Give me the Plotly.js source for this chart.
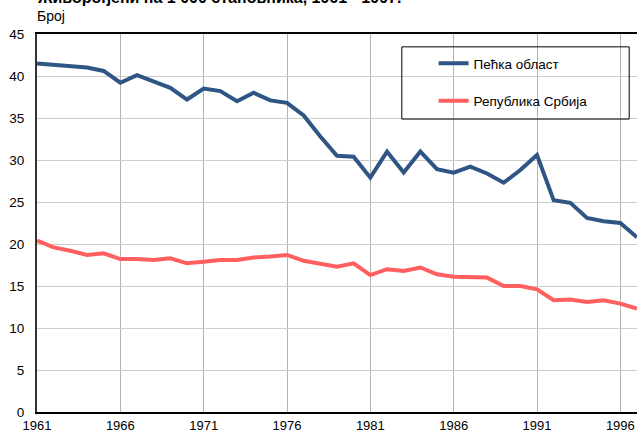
<!DOCTYPE html>
<html>
<head>
<meta charset="utf-8">
<script src="https://cdn.plot.ly/plotly-3.0.1.min.js"></script>
<style>html,body{margin:0;padding:0;background:#fff;}#chart{width:637px;height:434px;}</style>
</head>
<body>
<div id="chart"></div>
<script>
const years = [1961,1962,1963,1964,1965,1966,1967,1968,1969,1970,1971,1972,1973,1974,1975,1976,1977,1978,1979,1980,1981,1982,1983,1984,1985,1986,1987,1988,1989,1990,1991,1992,1993,1994,1995,1996,1997];
const pecka = [41.5,41.3,41.1,41.0,40.6,39.2,40.1,39.4,38.6,37.2,38.5,38.2,37.0,38.0,37.1,36.8,35.3,32.8,30.5,30.4,27.9,31.0,28.5,31.0,28.9,28.5,29.2,28.4,27.3,28.8,30.6,25.2,24.9,23.1,22.7,22.5,20.8];
const srbija = [20.4,19.6,19.2,18.7,18.9,18.2,18.2,18.1,18.3,17.7,17.9,18.1,18.1,18.4,18.5,18.7,18.0,17.7,17.3,17.7,16.3,17.0,16.8,17.2,16.4,16.1,16.1,16.0,15.0,15.0,14.6,13.3,13.4,13.1,13.3,12.9,12.3];
const seriesNames = ["Пећка област", "Република Србија"];
const xTicks = [1961,1966,1971,1976,1981,1986,1991,1996];
const yTicks = [0,5,10,15,20,25,30,35,40,45];
const titleText = "Живорођени на 1 000 становника, 1961 - 1997.";
const yLabel = "Број";

const data = [
  {x: years, y: pecka, name: seriesNames[0], type: 'scatter', mode: 'lines',
   line: {color: '#2f5584', width: 4}, legendgroup: 'a'},
  {x: years, y: srbija, name: seriesNames[1], type: 'scatter', mode: 'lines',
   line: {color: '#ff5f5f', width: 4}, legendgroup: 'b'}
];
const fontFam = 'Liberation Sans, Arial, sans-serif';
const layout = {
  width: 637, height: 434,
  margin: {l: 37, r: 0, t: 34, b: 22, pad: 0},
  paper_bgcolor: '#fff', plot_bgcolor: '#fff',
  font: {family: fontFam, size: 13, color: '#000'},
  showlegend: true,
  legend: {x: 0.661, y: 0.963, xanchor: 'left', yanchor: 'top', bgcolor: 'rgba(0,0,0,0)',
           borderwidth: 0, font: {family: fontFam, size: 13.5, color: '#000'},
           traceorder: 'grouped', tracegroupgap: 17},
  xaxis: {range: [1961, 1997], tickvals: xTicks, ticktext: xTicks.map(String),
          showgrid: true, gridcolor: '#b4b4b4', gridwidth: 1,
          showline: true, linecolor: '#000', linewidth: 2, mirror: true,
          ticks: '', zeroline: false, tickfont: {size: 13}},
  yaxis: {range: [0, 45], tickvals: yTicks, showgrid: true, gridcolor: '#cccccc', gridwidth: 1,
          showline: true, linecolor: '#333', linewidth: 2, ticks: '', zeroline: false,
          ticklabelstandoff: 8, tickfont: {size: 13.5}},
  shapes: [
    {type: 'rect', xref: 'paper', yref: 'paper', x0: 0.608, x1: 0.987, y0: 0.775, y1: 0.966,
     line: {color: '#000', width: 1}, fillcolor: 'rgba(0,0,0,0)'}
  ],
  annotations: [
    {text: '<b>' + titleText + '</b>', xref: 'paper', yref: 'paper', x: 0, y: 1, xanchor: 'left', yanchor: 'bottom',
     yshift: 26, xshift: -2, showarrow: false, font: {family: fontFam, size: 16, color: '#000'}},
    {text: yLabel, xref: 'paper', yref: 'paper', x: 0, y: 1, xanchor: 'left', yanchor: 'bottom',
     yshift: 8, xshift: -2, showarrow: false, font: {family: fontFam, size: 14, color: '#000'}}
  ]
};
Plotly.newPlot('chart', data, layout, {displayModeBar: false, staticPlot: true});
</script>
</body>
</html>
